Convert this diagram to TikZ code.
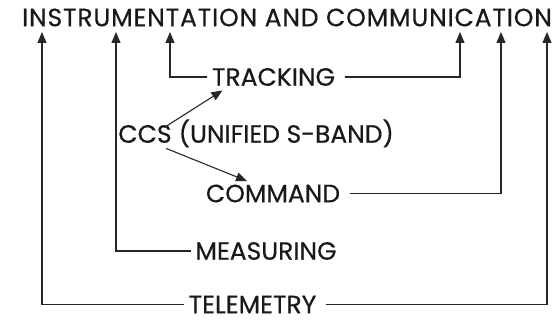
\documentclass[tikz,border=0pt]{standalone}
\usepackage{fontspec}
\setmainfont{Poppins}
\newfontfamily\labelfont{Poppins}[FakeBold=0.5]
\usetikzlibrary{arrows.meta, positioning}
\tikzset{
  every picture/.style={line width=1.1pt},
  label/.style={font=\labelfont\fontsize{25}{29}\selectfont, text=black!90, inner xsep=4pt, inner ysep=1pt},
  arrow/.style={-{Triangle[length=11pt, width=9pt]}, draw=black!85},
}
\begin{document}
\begin{tikzpicture}[x=1pt, y=-1pt]
  \useasboundingbox (0,0) rectangle (555,320);
  % heading and the points where the arrows meet it
  \node[label, font=\labelfont\fontsize{25}{29}\selectfont\addfontfeature{LetterSpace=3.4}] (ic) at (287,17.5) {INSTRUMENTATION AND COMMUNICATION};
  \foreach \x [count=\k] in {42,116,170,460,501,547}
    \coordinate (in\k) at (\x,32);
  % parts
  \node[label] (trk) at (273.5,77) {TRACKING};
  \node[label] (ccs) at (145,134) {CCS};
  \node[label, anchor=base west, inner sep=0pt] (usb) at ([xshift=2pt]ccs.base east) {(UNIFIED S-BAND)};
  \node[label] (cmd) at (273,193.5) {COMMAND};
  \node[label] (mes) at (266,251) {MEASURING};
  \node[label] (tel) at (252.5,304.5) {TELEMETRY};
  % connectors
  \draw[arrow] (trk.west) -| (in3);
  \draw[arrow] ([xshift=5pt]trk.east) -| (in4);
  \draw[arrow] ([xshift=5pt]cmd.east) -| (in5);
  \draw[arrow] (mes.west) -| (in2);
  \draw[arrow] (tel.west) -| (in1);
  \draw[arrow] ([xshift=5pt]tel.east) -| (in6);
  \draw[arrow] ([xshift=-12pt, yshift=-4pt]ccs.north east) -- ([xshift=15pt, yshift=-3pt]trk.south west);
  \draw[arrow] ([xshift=-10pt, yshift=-4pt]ccs.south east) -- ([xshift=-26pt, yshift=2pt]cmd.north);
\end{tikzpicture}
\end{document}
